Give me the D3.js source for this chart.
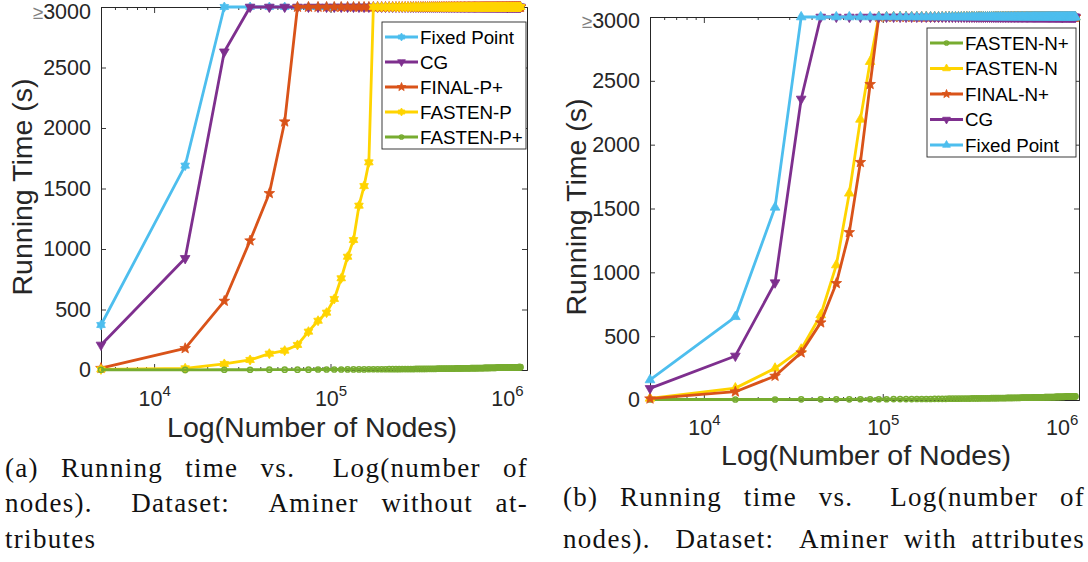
<!DOCTYPE html>
<html>
<head>
<meta charset="utf-8">
<script src="https://cdn.jsdelivr.net/npm/d3@7"></script>
<style>
  body { margin: 0; background: #fff; }
  svg { display: block; }
  .axis text { font-family: "Liberation Sans", Arial, Helvetica, sans-serif; }
</style>
</head>
<body>
<svg id="fig" width="1088" height="562"></svg>
<script>
// Runs that exceed the time limit are reported as ">=3000" seconds.
const TIME_LIMIT = 3000;

// Graph sizes (thousands of nodes) at which every method was run.
const nodesK = [
  5, 15, 25, 35, 45, 55, 65, 75, 85, 95,
  105, 115, 125, 135, 145, 155, 165, 175, 185, 195,
  205, 215, 225, 235, 245, 255, 265, 275, 285, 295,
  305, 315, 325, 335, 345, 355, 365, 375, 385, 395,
  405, 415, 425, 435, 445, 455, 465, 475, 485, 495,
  505, 515, 525, 535, 545, 555, 565, 575, 585, 595,
  605, 615, 625, 635, 645, 655, 665, 675, 685, 695,
  705, 715, 725, 735, 745, 755, 765, 775, 785, 795,
  805, 815, 825, 835, 845, 855, 865, 875, 885, 895,
  905, 915, 925, 935, 945, 955, 965, 975, 985, 995,
  1005, 1015, 1025, 1035, 1045, 1055, 1065, 1075, 1085, 1095,
  1105, 1115, 1125, 1135, 1145, 1155, 1165, 1175, 1185, 1195
];

const yTicks = [0, 500, 1000, 1500, 2000, 2500, 3000];
const xMajorTicks = [1e4, 1e5, 1e6];
const xTickExponents = ["4", "5", "6"];
const xMinorTicks = [6e3, 7e3, 8e3, 9e3, 2e4, 3e4, 4e4, 5e4, 6e4, 7e4, 8e4, 9e4,
                     2e5, 3e5, 4e5, 5e5, 6e5, 7e5, 8e5, 9e5];

// ---- (a) Aminer without attributes: seconds, listed until the run times out
const labelsA = ["Fixed Point", "CG", "FINAL-P+", "FASTEN-P", "FASTEN-P+"];
const fixedPointA = [372, 1689];
const cgA = [207, 923, 2630];
const finalPPlusA = [15, 179, 570, 1069, 1460, 2052];
const fastenPA = [5, 14, 50, 83, 135, 160, 207, 317, 407, 474, 587, 758, 936, 1074, 1358, 1520, 1716];
const fastenPPlusA = [
  2, 1, 2, 2, 3, 3, 3, 3, 4, 4,
  4, 4, 5, 5, 5, 5, 6, 6, 6, 6,
  6, 7, 7, 7, 7, 8, 8, 8, 8, 8,
  9, 9, 9, 9, 9, 10, 10, 10, 10, 10,
  11, 11, 11, 11, 11, 12, 12, 12, 12, 12,
  12, 13, 13, 13, 13, 13, 14, 14, 14, 14,
  14, 14, 15, 15, 15, 15, 15, 15, 16, 16,
  16, 16, 16, 16, 17, 17, 17, 17, 17, 17,
  18, 18, 18, 18, 18, 18, 18, 19, 19, 19,
  19, 19, 19, 19, 20, 20, 20, 20, 20, 20,
  20, 21, 21, 21, 21, 21, 21, 21, 22, 22,
  22, 22, 22, 22, 22, 22, 23, 23, 23, 23
];

// ---- (b) Aminer with attributes
const labelsB = ["FASTEN-N+", "FASTEN-N", "FINAL-N+", "CG", "Fixed Point"];
const fastenNPlusB = [
  4, 4, 4, 5, 5, 5, 5, 6, 6, 6,
  6, 7, 7, 7, 7, 8, 8, 8, 8, 9,
  9, 9, 9, 10, 10, 10, 10, 11, 11, 11,
  11, 12, 12, 12, 12, 13, 13, 13, 13, 13,
  14, 14, 14, 14, 15, 15, 15, 15, 15, 16,
  16, 16, 16, 16, 17, 17, 17, 17, 17, 18,
  18, 18, 18, 18, 19, 19, 19, 19, 19, 20,
  20, 20, 20, 20, 20, 21, 21, 21, 21, 21,
  22, 22, 22, 22, 22, 22, 23, 23, 23, 23,
  23, 23, 24, 24, 24, 24, 24, 24, 25, 25,
  25, 25, 25, 25, 26, 26, 26, 26, 26, 26,
  26, 27, 27, 27, 27, 27, 27, 28, 28, 28
];
const fastenNB = [13, 93, 248, 397, 666, 1057, 1619, 2198, 2650];
const finalNPlusB = [10, 65, 188, 371, 606, 914, 1313, 1862, 2473];
const cgB = [91, 345, 919, 2358];
const fixedPointB = [157, 652, 1509, 3000];

// Line colours
const COLORS = {
  fixed: "#4DBEEE",
  cg: "#7E2F8E",
  final: "#D95319",
  fasten: "#FFD400",
  fastenPlus: "#77AC30"
};
const AXIS_COLOR = "#262626";
const SANS = '"Liberation Sans", Arial, Helvetica, sans-serif';
const SERIF = '"Liberation Serif", "Times New Roman", serif';

// Marker outlines, centred on (0,0)
function starPath(n, rOut, rIn, startDeg) {
  const pts = [];
  for (let i = 0; i < 2 * n; i++) {
    const a = (startDeg + i * 180 / n) * Math.PI / 180;
    const r = i % 2 ? rIn : rOut;
    pts.push([r * Math.cos(a), r * Math.sin(a)]);
  }
  return "M" + pts.map(p => p[0].toFixed(2) + "," + p[1].toFixed(2)).join("L") + "Z";
}
function circlePath(r) {
  return `M${r},0A${r},${r} 0 1 1 ${-r},0A${r},${r} 0 1 1 ${r},0Z`;
}
const MARKERS = {
  triUp:   { path: s => starPath(3, 5.6 * s, 2.8 * s, -90), filled: true },
  triDown: { path: s => starPath(3, 5.6 * s, 2.8 * s, 90), filled: true },
  star5:   { path: s => starPath(5, 5.6 * s, 2.4 * s, -90), filled: true },
  hex6:    { path: s => starPath(6, 5.0 * s, 3.0 * s, -90), filled: true },
  ring:    { path: s => circlePath(2.6 * s), filled: false }
};

const svg = d3.select("#fig");

function drawPanel(cfg) {
  const g = svg.append("g");
  const x = d3.scaleLog().domain(cfg.xDomain).range([cfg.left, cfg.right]);
  const y = d3.scaleLinear().domain([0, TIME_LIMIT]).range([cfg.bottom, cfg.top]);

  // Frame with inward ticks on all four sides
  const axes = g.append("g").attr("class", "axis");
  const styleAxis = sel => {
    sel.select(".domain").attr("stroke", AXIS_COLOR).attr("stroke-width", 1);
    sel.selectAll(".tick line").attr("stroke", AXIS_COLOR).attr("stroke-width", 0.9);
  };

  const yAxisL = axes.append("g").attr("transform", `translate(${cfg.left},0)`)
    .call(d3.axisLeft(y).tickValues(yTicks).tickFormat(d3.format("d"))
      .tickSizeInner(-5).tickSizeOuter(0).tickPadding(10))
    .call(styleAxis);
  yAxisL.selectAll(".tick text")
    .attr("fill", AXIS_COLOR).attr("font-size", 21.5).attr("font-family", SANS)
    .each(function (d) {
      if (d === TIME_LIMIT) {
        // the top label reads ">=3000" and sits a little below its tick
        const t = d3.select(this).text("").attr("y", cfg.topLabelShift);
        t.append("tspan").attr("fill", "#808080").attr("font-size", 19).text("\u2265");
        t.append("tspan").text("3000");
      }
    });

  axes.append("g").attr("transform", `translate(${cfg.right},0)`)
    .call(d3.axisRight(y).tickValues(yTicks).tickSizeInner(-5).tickSizeOuter(0).tickFormat(""))
    .call(styleAxis);

  const xAxisB = axes.append("g").attr("transform", `translate(0,${cfg.bottom})`)
    .call(d3.axisBottom(x).tickValues(xMajorTicks).tickSizeInner(-6).tickSizeOuter(0).tickFormat(""))
    .call(styleAxis);
  xAxisB.selectAll(".tick").each(function (d, i) {
    const t = d3.select(this).append("text")
      .attr("y", cfg.xTickBaseline).attr("text-anchor", "middle")
      .attr("fill", AXIS_COLOR).attr("font-family", SANS).attr("font-size", 21.5);
    t.append("tspan").text("10");
    t.append("tspan").attr("dy", -10).attr("font-size", 15).text(xTickExponents[i]);
  });
  axes.append("g").attr("transform", `translate(0,${cfg.bottom})`)
    .call(d3.axisBottom(x).tickValues(xMinorTicks).tickSizeInner(-3).tickSizeOuter(0).tickFormat(""))
    .call(styleAxis);

  axes.append("g").attr("transform", `translate(0,${cfg.top})`)
    .call(d3.axisTop(x).tickValues(xMajorTicks).tickSizeInner(-6).tickSizeOuter(0).tickFormat(""))
    .call(styleAxis);
  axes.append("g").attr("transform", `translate(0,${cfg.top})`)
    .call(d3.axisTop(x).tickValues(xMinorTicks).tickSizeInner(-3).tickSizeOuter(0).tickFormat(""))
    .call(styleAxis);

  // Axis titles
  g.append("text")
    .attr("transform", `translate(${cfg.yTitle[0]},${cfg.yTitle[1]}) rotate(-90)`)
    .attr("text-anchor", "middle").attr("font-family", SANS).attr("font-size", 28.5)
    .attr("fill", AXIS_COLOR).text("Running Time (s)");
  g.append("text")
    .attr("x", cfg.xTitle[0]).attr("y", cfg.xTitle[1])
    .attr("text-anchor", "middle").attr("font-family", SANS).attr("font-size", 28.5)
    .attr("fill", AXIS_COLOR).text("Log(Number of Nodes)");

  // Series, drawn in legend order so later ones sit on top
  const line = d3.line().x(d => x(d.n)).y(d => y(d.v));
  cfg.series.forEach(s => {
    const pts = nodesK.map((n, i) => ({ n: n * 1000, v: i < s.values.length ? s.values[i] : TIME_LIMIT }));
    const sg = g.append("g");
    sg.append("path").datum(pts).attr("d", line)
      .attr("fill", "none").attr("stroke", s.color).attr("stroke-width", 2.8)
      .attr("stroke-linejoin", "round");
    const m = MARKERS[s.marker];
    sg.selectAll(null).data(pts).join("path")
      .attr("transform", d => `translate(${x(d.n)},${y(d.v)})`)
      .attr("d", m.path(1))
      .attr("fill", m.filled ? s.color : "none")
      .attr("stroke", s.color).attr("stroke-width", m.filled ? 0.8 : 1.5);
  });

  // Legend
  const L = cfg.legend;
  const lg = g.append("g");
  lg.append("rect").attr("x", L.x).attr("y", L.y).attr("width", L.w).attr("height", L.h)
    .attr("fill", "#fff").attr("stroke", AXIS_COLOR).attr("stroke-width", 0.9);
  cfg.series.forEach((s, i) => {
    const cy = L.firstRow + i * L.rowStep;
    lg.append("line").attr("x1", L.x + 3).attr("x2", L.x + 36).attr("y1", cy).attr("y2", cy)
      .attr("stroke", s.color).attr("stroke-width", 2.8);
    const m = MARKERS[s.marker];
    lg.append("path").attr("transform", `translate(${L.x + 19.5},${cy})`)
      .attr("d", m.path(0.8))
      .attr("fill", m.filled ? s.color : "none")
      .attr("stroke", s.color).attr("stroke-width", m.filled ? 0.8 : 1.5);
    lg.append("text").attr("x", L.x + 38).attr("y", cy).attr("dy", "0.35em")
      .attr("font-family", SANS).attr("font-size", 18.8).attr("fill", "#000")
      .text(s.name);
  });
}

drawPanel({
  left: 101, right: 527, top: 7, bottom: 370,
  xDomain: [5000, 1.3e6],
  xTickBaseline: 36, topLabelShift: 5,
  yTitle: [32, 187], xTitle: [312, 437],
  legend: { x: 382, y: 22, w: 144, h: 127, firstRow: 37, rowStep: 25 },
  series: [
    { name: labelsA[0], values: fixedPointA, color: COLORS.fixed, marker: "hex6" },
    { name: labelsA[1], values: cgA, color: COLORS.cg, marker: "triDown" },
    { name: labelsA[2], values: finalPPlusA, color: COLORS.final, marker: "star5" },
    { name: labelsA[3], values: fastenPA, color: COLORS.fasten, marker: "hex6" },
    { name: labelsA[4], values: fastenPPlusA, color: COLORS.fastenPlus, marker: "ring" }
  ]
});

drawPanel({
  left: 650, right: 1079, top: 17, bottom: 400,
  xDomain: [5000, 1.25e6],
  xTickBaseline: 35, topLabelShift: 4,
  yTitle: [586, 207], xTitle: [866, 465],
  legend: { x: 927, y: 28, w: 149, h: 129, firstRow: 43, rowStep: 25.5 },
  series: [
    { name: labelsB[0], values: fastenNPlusB, color: COLORS.fastenPlus, marker: "ring" },
    { name: labelsB[1], values: fastenNB, color: COLORS.fasten, marker: "triUp" },
    { name: labelsB[2], values: finalNPlusB, color: COLORS.final, marker: "star5" },
    { name: labelsB[3], values: cgB, color: COLORS.cg, marker: "triDown" },
    { name: labelsB[4], values: fixedPointB, color: COLORS.fixed, marker: "triUp" }
  ]
});

// Sub-figure captions, set as justified lines
function captionLine(text, x0, x1, baseline, justify) {
  const words = text.split(" ");
  const tg = svg.append("g").attr("font-family", SERIF).attr("font-size", 27)
    .attr("letter-spacing", "1.3px").attr("fill", "#111");
  const nodes = words.map(w => tg.append("text").attr("y", baseline).text(w));
  const widths = nodes.map(n => n.node().getComputedTextLength());
  const weights = words.slice(0, -1).map(w => /[.:]$/.test(w) ? 1.7 : 1);
  const gap = justify ? (x1 - x0 - d3.sum(widths)) / d3.sum(weights) : 8;
  let cx = x0;
  nodes.forEach((n, i) => {
    n.attr("x", cx);
    cx += widths[i] + (i < weights.length ? gap * weights[i] : 0);
  });
}
captionLine("(a) Running time vs. Log(number of", 5, 528, 477, true);
captionLine("nodes). Dataset: Aminer without at-", 5, 528, 512, true);
captionLine("tributes", 5, 528, 548, false);
captionLine("(b) Running time vs. Log(number of", 563, 1085, 506, true);
captionLine("nodes). Dataset: Aminer with attributes", 563, 1085, 548, true);
</script>
</body>
</html>
